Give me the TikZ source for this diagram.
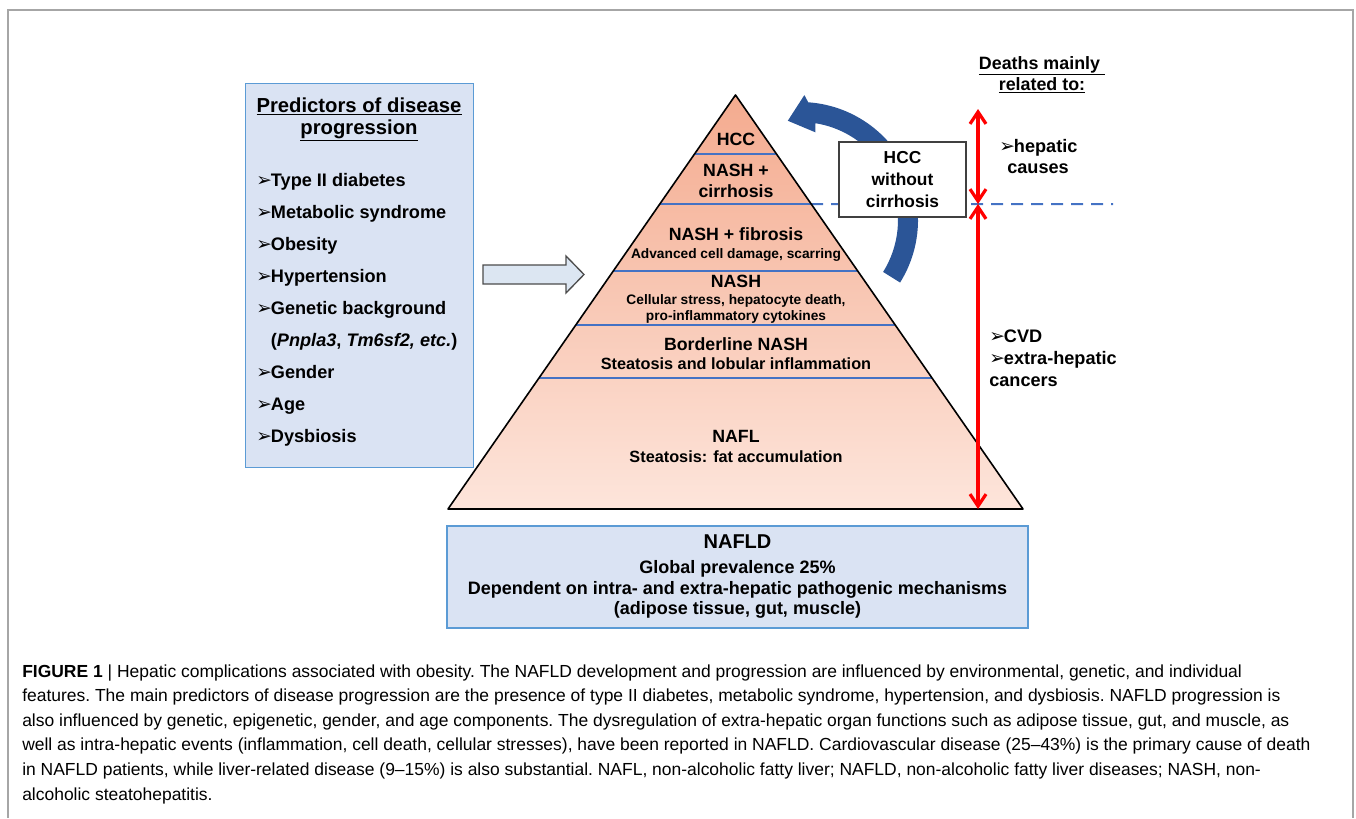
\documentclass[tikz,border=0pt]{standalone}
\usepackage{fontspec}
\setmainfont{Liberation Sans}
\newfontfamily\dejavu{DejaVu Sans}
\usetikzlibrary{arrows.meta,calc}
\definecolor{panelfill}{HTML}{DAE3F3}
\definecolor{panelline}{HTML}{5B9BD5}
\definecolor{pyrtop}{HTML}{F4AB8F}
\definecolor{pyrbot}{HTML}{FDE5DB}
\definecolor{layerblue}{HTML}{4472C4}
\definecolor{hccblue}{HTML}{2B5597}
\definecolor{hollow}{HTML}{DCE6F2}
\definecolor{framegray}{HTML}{A6A6A6}
\newcommand{\bul}{\makebox[11pt][l]{\dejavu\fontsize{14}{14}\selectfont\char"27A2}}

\begin{document}
\begin{tikzpicture}[x=0.75pt, y=0.75pt,
  panel/.style={draw=panelline, line width=1.1pt, fill=panelfill, inner sep=0pt},
  heading/.style={anchor=base, inner sep=0pt, font=\fontsize{15.2}{18}\selectfont\bfseries},
  dhead/.style={anchor=base, inner sep=0pt, font=\fontsize{13.4}{16}\selectfont\bfseries},
  item/.style={anchor=base west, inner sep=0pt, font=\fontsize{13.6}{15}\selectfont\bfseries},
  pbig/.style={anchor=base, inner sep=0pt, font=\fontsize{13.3}{15}\selectfont\bfseries},
  pmid/.style={anchor=base, inner sep=0pt, font=\fontsize{12.2}{14}\selectfont\bfseries},
  psml/.style={anchor=base, inner sep=0pt, font=\fontsize{10.3}{12}\selectfont\bfseries},
  layer/.style={draw=layerblue, line width=1.5pt},
  death/.style={<->, >={Straight Barb[length=9pt,width=12pt]}, draw=red, line width=2.4pt},
  captext/.style={anchor=base west, inner sep=0pt, font=\fontsize{13.1}{15}\selectfont\frenchspacing}]
\useasboundingbox (0,0) rectangle (1356,-818);
\draw[framegray, line width=1.2pt] (8,-818) |- (1353,-10) -- (1353,-818);

\node[panel, anchor=north west, minimum width=171pt, minimum height=288pt] (pred) at (245,-83) {};
\node[heading] (ph1) at (359,-112) {\underline{Predictors of disease}};
\node[heading] (ph2) at (359,-134) {\underline{progression}};
\foreach \t [count=\i] in {\bul Type II diabetes, \bul Metabolic syndrome, \bul Obesity,
    \bul Hypertension, \bul Genetic background, {\hspace*{11pt}(\textit{Pnpla3}, \textit{Tm6sf2, etc.})},
    \bul Gender, \bul Age, \bul Dysbiosis}
  \node[item] (p\i) at (256,{-186-32.1*(\i-1)}) {\t};

\draw[black!70, fill=hollow, line width=1pt] (483,-265) -- (566,-265) -- (566,-256) -- (584,-274.5)
  -- (566,-293) -- (566,-284) -- (483,-284) -- cycle;

\coordinate (apex) at (735.5,-95);
\coordinate (bl) at (448,-509);
\coordinate (br) at (1023,-509);
\coordinate (dend) at (1113,-204);
\shade[top color=pyrtop, bottom color=pyrbot] (apex) -- (br) -- (bl) -- cycle;
\draw[layer, dash pattern=on 9pt off 6pt] ($(apex)!0.2633!(br)$) -- (dend);
\foreach \t in {0.1425,0.2633,0.4251,0.5556,0.6836}
  \draw[layer] ($(apex)!\t!(bl)$) -- ($(apex)!\t!(br)$);
\draw[line width=1.2pt, line join=round] (apex) -- (br) -- (bl) -- cycle;

\node[pbig] (t1) at (736,-145) {HCC};
\node[pbig] (t2) at (736,-176) {NASH +};
\node[pbig] (t3) at (736,-197) {cirrhosis};
\node[pbig] (t4) at (736,-240) {NASH + fibrosis};
\node[psml] (t5) at (736,-258) {Advanced cell damage, scarring};
\node[pbig] (t6) at (736,-287) {NASH};
\node[psml] (t7) at (736,-304) {Cellular stress, hepatocyte death,};
\node[psml] (t8) at (736,-320) {pro-inflammatory cytokines};
\node[pbig] (t9) at (736,-350) {Borderline NASH};
\node[pmid] (t10) at (736,-369) {Steatosis and lobular inflammation};
\node[pbig] (t11) at (736,-442) {NAFL};
\node[pmid] (t12) at (736,-462) {Steatosis: fat accumulation};

\coordinate (cc) at (800,-220);
\fill[hccblue] ($(cc)+(-32:118)$) arc[start angle=-32, end angle=86, radius=118]
  -- ($(cc)+(88:125)$) -- ($(cc)+(97:100)$) -- ($(cc)+(80:89)$) -- ($(cc)+(81:98)$)
  arc[start angle=81, end angle=-32, radius=98] -- cycle;
\node[draw=black!75, fill=white, line width=0.9pt, minimum width=95.25pt, minimum height=56.25pt,
  align=center, inner sep=0pt, font=\fontsize{13}{16.5}\selectfont\bfseries] (hcc) at (902.5,-179.5)
  {HCC\\without\\cirrhosis};

\node[dhead] (dh1) at (1042,-69) {\underline{Deaths mainly\ }};
\node[dhead] (dh2) at (1042,-90) {\underline{related to:}};
\coordinate (dtop) at (978,-109);
\coordinate (dmid) at (978,-204);
\coordinate (dbot) at (978,-509);
\draw[death] (dtop) -- (dmid);
\draw[death] (dmid) -- (dbot);
\node[item] (hep) at (999,-152) {\bul hepatic};
\node[item] (cau) at (1007,-173) {causes};
\node[item] (cvd) at (989,-342) {\bul CVD};
\node[item] (exh) at (989,-364) {\bul extra-hepatic};
\node[item] (can) at (989,-386) {cancers};

\node[panel, minimum width=435.75pt, minimum height=76.5pt, align=center,
  font=\fontsize{13.5}{15.4}\selectfont\bfseries] (nafld) at (737.5,-577)
  {{\fontsize{15}{18}\selectfont NAFLD}\\[3.3pt]Global prevalence 25\%\\
   Dependent on intra- and extra-hepatic pathogenic mechanisms\\(adipose tissue, gut, muscle)};

\foreach \t [count=\i] in {
  {\textbf{FIGURE 1} | Hepatic complications associated with obesity. The NAFLD development and progression are influenced by environmental, genetic, and individual},
  {features. The main predictors of disease progression are the presence of type II diabetes, metabolic syndrome, hypertension, and dysbiosis. NAFLD progression is},
  {also influenced by genetic, epigenetic, gender, and age components. The dysregulation of extra-hepatic organ functions such as adipose tissue, gut, and muscle, as},
  {well as intra-hepatic events (inflammation, cell death, cellular stresses), have been reported in NAFLD. Cardiovascular disease (25–43\%) is the primary cause of death},
  {in NAFLD patients, while liver-related disease (9–15\%) is also substantial. NAFL, non-alcoholic fatty liver; NAFLD, non-alcoholic fatty liver diseases; NASH, non-},
  {alcoholic steatohepatitis.}}
  \node[captext] (cap\i) at (22,{-677-24.6*(\i-1)}) {\t};
\end{tikzpicture}
\end{document}
